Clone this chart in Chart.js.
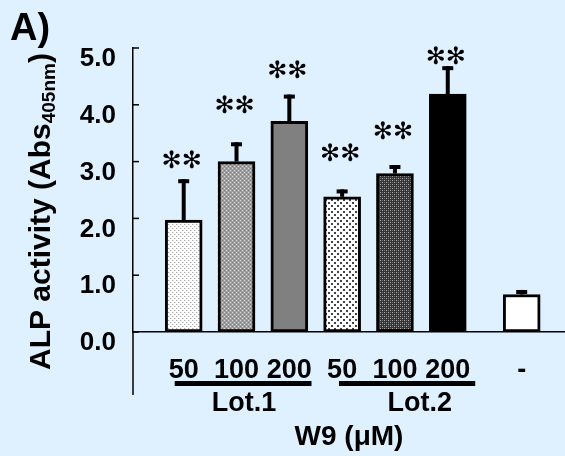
<!DOCTYPE html>
<html><head><meta charset="utf-8">
<script src="https://cdn.jsdelivr.net/npm/chart.js@4.4.1/dist/chart.umd.min.js"></script>
<style>html,body{margin:0;padding:0;background:#dff1ff;} #wrap{width:565px;height:456px;}</style>
</head><body><div id="wrap"><canvas id="c" width="565" height="456"></canvas></div>
<script>
// ---- data ----
const categories = ['50', '100', '200', '50', '100', '200', '-'];
const positions = [1, 2, 3, 4, 5, 6, 7.4];
const values = [1.97, 3.00, 3.71, 2.38, 2.79, 4.19, 0.66];
const errors = [0.72, 0.34, 0.47, 0.13, 0.15, 0.49, 0.08];
const significance = ['**', '**', '**', '**', '**', '**', ''];
const sigLevels = [2.99, 3.96, 4.58, 3.12, 3.50, 4.83, null];
const yTicks = [0, 1, 2, 3, 4, 5];
const groupLabels = ['Lot.1', 'Lot.2'];
const groupSpans = [[0.83, 3.42], [3.94, 6.52]];
const groupLabelAt = [2.14, 5.47];
const yTitle = ['ALP activity (Abs', '405nm', ')'];
const xTitle = 'W9 (\u03bcM)';
const panel = 'A)';

// ---- styling ----
const BG = '#dff1ff';
const FONT = "'Liberation Sans', Arial, sans-serif";
Chart.defaults.font.family = FONT;
Chart.defaults.color = '#000';

function tile(w, h, base, pts) {
  const c = document.createElement('canvas');
  c.width = w; c.height = h;
  const g = c.getContext('2d');
  g.fillStyle = base; g.fillRect(0, 0, w, h);
  pts.forEach(p => { g.fillStyle = p[2]; g.fillRect(p[0], p[1], p[3] || 1, p[4] || 1); });
  return g.createPattern(c, 'repeat');
}
const fills = [
  tile(4, 4, '#ffffff', [[0, 0, '#a8a8a8'], [2, 2, '#a8a8a8'], [1, 0, '#e0e0e0'], [3, 2, '#e0e0e0']]),
  tile(4, 4, '#a0a0a0', [[0, 0, '#dadada'], [2, 2, '#dadada'], [2, 0, '#7c7c7c'], [0, 2, '#7c7c7c']]),
  '#808080',
  tile(6, 6, '#ffffff', [[1, 1, '#444', 2, 2], [4, 4, '#444', 2, 2]]),
  tile(4, 4, '#343434', [[0, 0, '#b0b0b0'], [2, 2, '#b0b0b0'], [2, 0, '#707070'], [0, 2, '#707070']]),
  '#000000',
  '#ffffff'
];

const decor = {
  id: 'decor',
  beforeDraw(chart) {
    const c = chart.ctx;
    c.save(); c.fillStyle = BG; c.fillRect(0, 0, chart.width, chart.height); c.restore();
  },
  afterDatasetsDraw(chart) {
    const c = chart.ctx, xs = chart.scales.x, ys = chart.scales.y;
    c.save();
    c.fillStyle = '#000';
    values.forEach((v, i) => {
      const x = xs.getPixelForValue(positions[i]);
      const y0 = ys.getPixelForValue(v);
      const y1 = ys.getPixelForValue(v + errors[i]);
      c.fillRect(x - 2, y1, 4, y0 - y1);
      c.fillRect(x - 5.5, y1, 11, 4);
    });
    c.font = "24px 'DejaVu Sans'";
    c.textAlign = 'center'; c.textBaseline = 'middle';
    significance.forEach((s, i) => {
      if (!s) return;
      const x = xs.getPixelForValue(positions[i]) - 2;
      const y = ys.getPixelForValue(sigLevels[i]);
      c.fillText(s.replace(/\*/g, '\u273b'), x, y);
    });
    c.restore();
  },
  afterDraw(chart) {
    const c = chart.ctx, xs = chart.scales.x, ys = chart.scales.y;
    const a = chart.chartArea;
    c.save();
    c.strokeStyle = '#000'; c.lineWidth = 1.5;
    c.beginPath(); c.moveTo(a.left, a.bottom); c.lineTo(a.left, a.bottom + 63); c.stroke();
    yTicks.forEach(v => {
      const y = ys.getPixelForValue(v);
      c.beginPath(); c.moveTo(a.left, y); c.lineTo(a.left + 6, y); c.stroke();
    });
    c.fillStyle = '#000';
    c.font = 'bold 27px ' + FONT;
    c.textAlign = 'center'; c.textBaseline = 'alphabetic';
    groupLabels.forEach((g, i) => {
      const x0 = xs.getPixelForValue(groupSpans[i][0]);
      const x1 = xs.getPixelForValue(groupSpans[i][1]);
      c.fillRect(x0, a.bottom + 49, x1 - x0, 5);
      c.fillText(g, xs.getPixelForValue(groupLabelAt[i]), a.bottom + 79);
    });
    c.save();
    c.translate(50, 370); c.rotate(-Math.PI / 2);
    c.textAlign = 'left';
    c.font = 'bold 30px ' + FONT;
    c.fillText(yTitle[0], 0, 0);
    let w = c.measureText(yTitle[0]).width;
    c.font = 'bold 19px ' + FONT;
    c.fillText(yTitle[1], w, 5);
    w += c.measureText(yTitle[1]).width;
    c.font = 'bold 30px ' + FONT;
    c.fillText(yTitle[2], w, 0);
    c.restore();
    c.font = 'bold 38px ' + FONT;
    c.textAlign = 'left';
    c.fillText(panel, 10, 40);
    c.restore();
  }
};

new Chart(document.getElementById('c'), {
  type: 'bar',
  data: {
    datasets: [{
      data: positions.map((x, i) => ({ x: x, y: values[i] })),
      backgroundColor: fills,
      borderColor: '#000',
      borderWidth: 3,
      borderSkipped: false,
      barThickness: 37
    }]
  },
  options: {
    responsive: false,
    animation: false,
    devicePixelRatio: 1,
    layout: { padding: { top: 48, left: 0, right: 0, bottom: 0 } },
    plugins: { legend: { display: false }, tooltip: { enabled: false } },
    scales: {
      x: {
        type: 'linear', min: 0.04, max: 8.22, offset: false,
        afterBuildTicks: s => { s.ticks = positions.map(v => ({ value: v })); },
        afterFit: s => { s.height = 124; s.paddingLeft = 0; s.paddingRight = 0; },
        ticks: {
          autoSkip: false, maxRotation: 0, padding: 22,
          font: { size: 27, weight: 'bold' }, color: '#000',
          callback: (v, i) => categories[i]
        },
        grid: { display: false, drawTicks: false },
        border: { display: true, color: '#000', width: 1.5 },
        title: { display: true, text: xTitle, color: '#000', font: { size: 28, weight: 'bold' }, padding: { top: 0, bottom: 2 } }
      },
      y: {
        min: 0, max: 5,
        afterBuildTicks: s => { s.ticks = yTicks.map(v => ({ value: v })); },
        afterFit: s => { s.width = 133; s.paddingTop = 0; s.paddingBottom = 0; },
        ticks: {
          padding: 17, labelOffset: 11,
          font: { size: 26, weight: 'bold' }, color: '#000',
          callback: v => v.toFixed(1)
        },
        grid: { display: false, drawTicks: false },
        border: { display: true, color: '#000', width: 1.5 }
      }
    }
  },
  plugins: [decor]
});
</script></body></html>
